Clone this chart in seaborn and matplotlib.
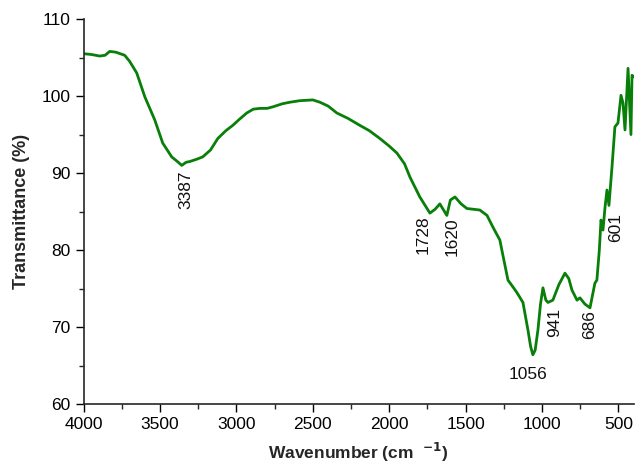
import numpy as np
import pandas as pd
import seaborn as sns
import matplotlib.pyplot as plt
from matplotlib.ticker import MultipleLocator

# wavenumber (cm-1) and transmittance (%)
wavenumber = [4000, 3950, 3895, 3860, 3830, 3790, 3732, 3699, 3653, 3600,
              3535, 3483, 3424, 3387, 3358, 3330, 3306, 3260, 3221, 3170,
              3122, 3070, 3024, 2980, 2933, 2890, 2847, 2800, 2762, 2700,
              2651, 2585, 2500, 2454, 2400, 2343, 2270, 2193, 2130, 2062,
              2000, 1950, 1900, 1865, 1800, 1734, 1700, 1669, 1623, 1600,
              1570, 1530, 1492, 1407, 1360, 1322, 1276, 1263, 1223, 1190,
              1165, 1125, 1092, 1075, 1060, 1045, 1027, 1010, 994, 975,
              961, 929, 890, 850, 825, 804, 771, 752, 720, 686,
              654, 641, 625, 614, 601, 588, 575, 562, 542, 523,
              503, 483, 470, 457, 437, 418, 411, 400]
transmittance = [105.5, 105.4, 105.2, 105.3, 105.8, 105.7, 105.3, 104.5, 103.0, 99.9,
                 96.9, 93.9, 92.1, 91.5, 91.0, 91.4, 91.5, 91.8, 92.1, 93.0,
                 94.5, 95.5, 96.2, 97.0, 97.8, 98.3, 98.4, 98.4, 98.6, 99.0,
                 99.2, 99.4, 99.5, 99.2, 98.7, 97.8, 97.1, 96.2, 95.5, 94.5,
                 93.5, 92.6, 91.2, 89.5, 86.9, 84.8, 85.3, 86.0, 84.5, 86.5,
                 86.9, 86.0, 85.4, 85.2, 84.5, 83.0, 81.3, 80.0, 76.1, 75.2,
                 74.5, 73.2, 69.6, 67.5, 66.4, 67.0, 69.6, 73.0, 75.1, 73.5,
                 73.2, 73.5, 75.5, 77.0, 76.3, 74.8, 73.5, 73.8, 73.0, 72.5,
                 75.7, 76.1, 80.0, 83.9, 82.6, 85.5, 87.8, 85.8, 90.8, 96.0,
                 96.5, 100.1, 99.1, 95.6, 103.6, 95.0, 102.7, 102.5]

# peak labels: text, x, y, rotation
peak_text = ["3387", "1728", "1620", "1056", "941", "686", "601"]
peak_x = [3332, 1780, 1590, 1092, 916, 686, 516]
peak_y = [87.8, 82.0, 81.7, 63.8, 70.6, 70.3, 82.9]
peak_rot = [90, 90, 90, 0, 90, 90, 90]

df = pd.DataFrame({"wn": wavenumber, "T": transmittance})

sns.set_style("ticks")
plt.rcParams["font.family"] = ["Liberation Sans", "DejaVu Sans"]

fig = plt.figure(figsize=(6.44, 4.65), dpi=100)
ax = fig.add_axes([0.130, 0.131, 0.854, 0.828])
sns.lineplot(data=df, x="wn", y="T", sort=False, color="#087f08", linewidth=2.0, ax=ax)

for t, x, y, r in zip(peak_text, peak_x, peak_y, peak_rot):
    ax.text(x, y, t, rotation=r, ha="center", va="center", fontsize=12.5, color="#111111")

ax.set_xlim(4000, 400)
ax.set_ylim(60, 110)
ax.xaxis.set_major_locator(MultipleLocator(500))
ax.xaxis.set_minor_locator(MultipleLocator(250))
ax.yaxis.set_major_locator(MultipleLocator(10))
ax.yaxis.set_minor_locator(MultipleLocator(5))
ax.tick_params(which="major", direction="out", length=6, width=1, labelsize=12.5, colors="black")
ax.tick_params(which="minor", direction="out", length=3.5, width=1)
for s in ["left", "bottom"]:
    ax.spines[s].set_linewidth(1.2)
sns.despine(ax=ax)

ax.set_xlabel(r"Wavenumber (cm  $^{\mathbf{-1}}$)", fontsize=12.5, fontweight="bold", labelpad=6)
ax.set_ylabel("Transmittance (%)", fontsize=13, fontweight="bold", labelpad=8)

fig.savefig("out.png", dpi=100)
